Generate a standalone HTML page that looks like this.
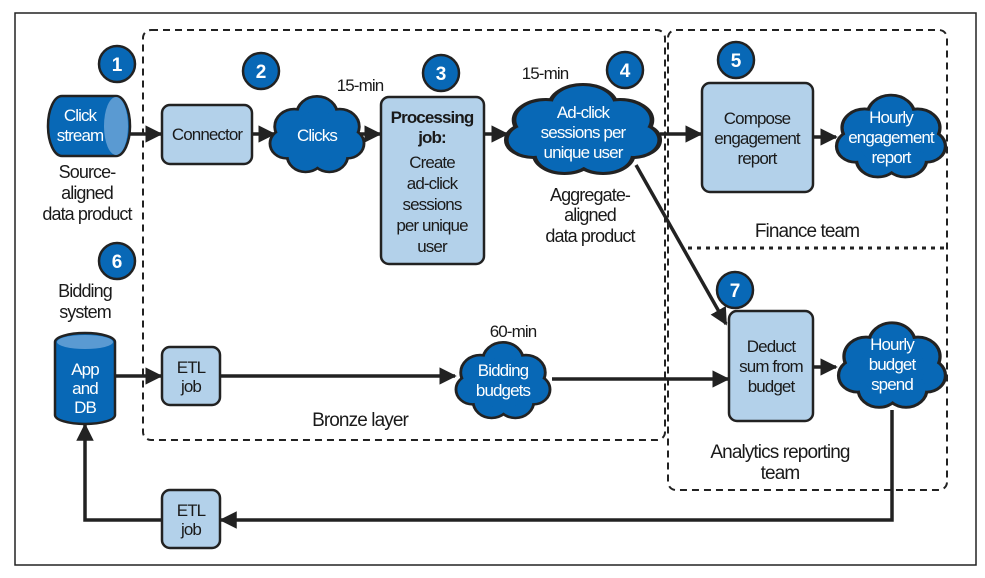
<!DOCTYPE html>
<html><head><meta charset="utf-8"><style>
html,body{margin:0;padding:0;background:#fff;}
svg{display:block;font-family:"Liberation Sans",sans-serif;}
.t{font-size:17px;fill:#1a1a1a;text-anchor:middle;letter-spacing:-0.9px}
.w{font-size:17px;fill:#fff;text-anchor:middle;letter-spacing:-0.9px}
.n{font-size:19px;fill:#fff;text-anchor:middle;font-weight:bold}
.box{fill:#b3d1ea;stroke:#222;stroke-width:2.5}
.ln{stroke:#222;stroke-width:3.5;fill:none}
.c{fill:#0868b6;stroke:#222;stroke-width:2.5}
</style></head><body>
<svg width="985" height="578" viewBox="0 0 985 578" xmlns="http://www.w3.org/2000/svg">
<defs>
<marker id="a" viewBox="0 0 10 10" refX="9" refY="5" markerWidth="5" markerHeight="5.4" orient="auto" markerUnits="strokeWidth"><path d="M0,0L10,5L0,10z" fill="#222"/></marker>
<g id="cl">
<g fill="#222" stroke="#222" stroke-width="6">
<circle cx="0" cy="-24" r="20"/><circle cx="-24" cy="-10" r="19"/><circle cx="24" cy="-10" r="19"/><circle cx="-32" cy="10" r="16"/><circle cx="32" cy="10" r="16"/><circle cx="-12" cy="24" r="18"/><circle cx="13" cy="24" r="18"/><circle cx="0" cy="2" r="30"/>
</g>
<g fill="#0868b6">
<circle cx="0" cy="-24" r="20"/><circle cx="-24" cy="-10" r="19"/><circle cx="24" cy="-10" r="19"/><circle cx="-32" cy="10" r="16"/><circle cx="32" cy="10" r="16"/><circle cx="-12" cy="24" r="18"/><circle cx="13" cy="24" r="18"/><circle cx="0" cy="2" r="30"/>
</g>
</g>
</defs>
<rect x="15" y="13" width="961" height="552" fill="none" stroke="#222" stroke-width="1.5"/>
<rect x="143" y="30" width="522" height="410" rx="8" fill="none" stroke="#222" stroke-width="2" stroke-dasharray="7,5"/>
<rect x="668" y="30" width="279" height="460" rx="8" fill="none" stroke="#222" stroke-width="2" stroke-dasharray="7,5"/>
<line x1="688" y1="248" x2="944" y2="248" stroke="#222" stroke-width="3" stroke-dasharray="4,5"/>

<line class="ln" x1="130" y1="134" x2="161" y2="134" marker-end="url(#a)"/>
<line class="ln" x1="252" y1="134" x2="274" y2="134" marker-end="url(#a)"/>
<line class="ln" x1="360" y1="134" x2="380" y2="134" marker-end="url(#a)"/>
<line class="ln" x1="485" y1="134" x2="507" y2="134" marker-end="url(#a)"/>
<line class="ln" x1="660" y1="134" x2="701" y2="134" marker-end="url(#a)"/>
<line class="ln" x1="814" y1="137" x2="836" y2="137" marker-end="url(#a)"/>
<line class="ln" x1="636" y1="165" x2="726" y2="324" marker-end="url(#a)"/>
<line class="ln" x1="115" y1="376" x2="161" y2="376" marker-end="url(#a)"/>
<line class="ln" x1="220" y1="376" x2="455" y2="376" marker-end="url(#a)"/>
<line class="ln" x1="552" y1="379" x2="728" y2="379" marker-end="url(#a)"/>
<line class="ln" x1="813" y1="367" x2="836" y2="367" marker-end="url(#a)"/>
<polyline class="ln" points="892,410 892,520 221,520" marker-end="url(#a)"/>
<polyline class="ln" points="162,520 85,520 85,425" marker-end="url(#a)"/>

<path d="M62,96 H116 A14,30 0 0 1 116,156 H62 A14,30 0 0 1 62,96z" fill="#0868b6" stroke="#222" stroke-width="2.5"/>
<ellipse cx="116" cy="126" rx="12" ry="29" fill="#5a9ad2"/>
<text class="w" x="80" y="121">Click</text><text class="w" x="80" y="141">stream</text>
<text class="t" x="87" y="178" style="font-size:18px">Source-</text><text class="t" x="87" y="199" style="font-size:18px">aligned</text><text class="t" x="87" y="220" style="font-size:18px">data product</text>

<path d="M55,342 A30,9 0 0 1 115,342 V415 A30,9 0 0 1 55,415z" fill="#0868b6" stroke="#222" stroke-width="2.5"/>
<ellipse cx="85" cy="342" rx="28" ry="7" fill="#5a9ad2"/>
<text class="w" x="85" y="375">App</text><text class="w" x="85" y="394">and</text><text class="w" x="85" y="413">DB</text>
<text class="t" x="85" y="297" style="font-size:18px">Bidding</text><text class="t" x="85" y="318" style="font-size:18px">system</text>

<rect class="box" x="162" y="105" width="90" height="59" rx="8"/><text class="t" x="207" y="140">Connector</text>
<rect class="box" x="381" y="97" width="103" height="167" rx="8"/>
<text class="t" x="432" y="123" style="font-weight:bold">Processing</text><text class="t" x="432" y="143" style="font-weight:bold">job:</text>
<text class="t" x="432" y="168">Create</text><text class="t" x="432" y="189">ad-click</text><text class="t" x="432" y="210">sessions</text><text class="t" x="432" y="231">per unique</text><text class="t" x="432" y="252">user</text>
<rect class="box" x="702" y="83" width="111" height="109" rx="8"/>
<text class="t" x="757" y="124">Compose</text><text class="t" x="757" y="144">engagement</text><text class="t" x="757" y="164">report</text>
<rect class="box" x="729" y="311" width="84" height="110" rx="8"/>
<text class="t" x="771" y="352">Deduct</text><text class="t" x="771" y="372">sum from</text><text class="t" x="771" y="392">budget</text>
<rect class="box" x="162" y="347" width="58" height="58" rx="8"/><text class="t" x="191" y="373">ETL</text><text class="t" x="191" y="392">job</text>
<rect class="box" x="162" y="490" width="58" height="58" rx="8"/><text class="t" x="191" y="516">ETL</text><text class="t" x="191" y="535">job</text>

<use href="#cl" transform="translate(317,135) scale(0.95,0.85)"/>
<text class="w" x="317" y="141">Clicks</text>
<use href="#cl" transform="translate(583,130) scale(1.55,1.0)"/>
<text class="w" x="583" y="118">Ad-click</text><text class="w" x="583" y="138">sessions per</text><text class="w" x="583" y="158">unique user</text>
<use href="#cl" transform="translate(891,137) scale(1.1,0.92)"/>
<text class="w" x="891" y="123">Hourly</text><text class="w" x="891" y="143">engagement</text><text class="w" x="891" y="163">report</text>
<use href="#cl" transform="translate(503,381) scale(0.95,0.85)"/>
<text class="w" x="503" y="376">Bidding</text><text class="w" x="503" y="396">budgets</text>
<use href="#cl" transform="translate(892,366) scale(1.08,0.95)"/>
<text class="w" x="892" y="350">Hourly</text><text class="w" x="892" y="370">budget</text><text class="w" x="892" y="390">spend</text>

<text class="t" x="360" y="91">15-min</text>
<text class="t" x="545" y="79">15-min</text>
<text class="t" x="590" y="201" style="font-size:18px">Aggregate-</text><text class="t" x="590" y="221" style="font-size:18px">aligned</text><text class="t" x="590" y="242" style="font-size:18px">data product</text>
<text class="t" x="807" y="237" style="font-size:19px">Finance team</text>
<text class="t" x="513" y="337">60-min</text>
<text class="t" x="360" y="426" style="font-size:19px">Bronze layer</text>
<text class="t" x="780" y="458" style="font-size:19px">Analytics reporting</text><text class="t" x="780" y="479" style="font-size:19px">team</text>

<circle class="c" cx="117" cy="64" r="18"/><text class="n" x="117" y="71">1</text>
<circle class="c" cx="261" cy="71" r="18"/><text class="n" x="261" y="78">2</text>
<circle class="c" cx="441" cy="73" r="18"/><text class="n" x="441" y="80">3</text>
<circle class="c" cx="625" cy="70" r="18"/><text class="n" x="625" y="77">4</text>
<circle class="c" cx="736" cy="60" r="18"/><text class="n" x="736" y="67">5</text>
<circle class="c" cx="117" cy="261" r="18"/><text class="n" x="117" y="268">6</text>
<circle class="c" cx="735" cy="290" r="18"/><text class="n" x="735" y="297">7</text>
</svg>
</body></html>
